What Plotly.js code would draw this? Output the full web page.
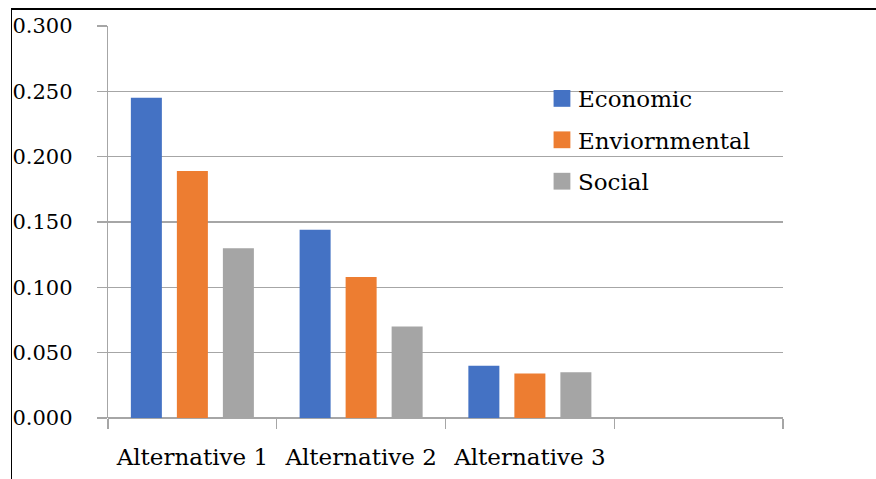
<!DOCTYPE html>
<html>
<head>
<meta charset="utf-8">
<script src="https://cdn.plot.ly/plotly-3.0.1.min.js"></script>
<style>
html,body{margin:0;padding:0;background:#fff;overflow:hidden;}
#frame{position:absolute;left:11px;top:8px;width:880px;height:480px;border-top:2px solid #000;border-left:1.5px solid #000;pointer-events:none;z-index:5;}
#chart{position:absolute;left:0;top:0;width:876px;height:479px;}
</style>
</head>
<body>
<div id="chart"></div>
<div id="frame"></div>
<script>
const categories = ["Alternative 1", "Alternative 2", "Alternative 3", " "];
const economic = [0.245, 0.144, 0.040, null];
const environmental = [0.189, 0.108, 0.034, null];
const social = [0.130, 0.070, 0.035, null];
const seriesNames = ["Economic", "Enviornmental", "Social"];
const colors = ["#4472C4", "#ED7D31", "#A5A5A5"];
const yTicks = [0, 0.05, 0.1, 0.15, 0.2, 0.25, 0.3];

const FONT = "DejaVu Serif, serif";
const series = [economic, environmental, social];
const traces = series.map((v, i) => ({
  type: "bar",
  x: categories,
  y: v,
  name: seriesNames[i],
  legendgroup: "g" + i,
  marker: {color: colors[i]},
  hoverinfo: "none"
}));

const layout = {
  width: 876, height: 479,
  margin: {l: 108, r: 93, t: 26, b: 61, pad: 0},
  paper_bgcolor: "#fff", plot_bgcolor: "#fff",
  barmode: "group",
  bargap: 0.182,
  bargroupgap: 0.326,
  showlegend: true,
  legend: {
    x: 0.637, y: 0.87, xanchor: "left", yanchor: "top",
    font: {family: FONT, size: 23, color: "#000"},
    bgcolor: "rgba(0,0,0,0)",
    tracegroupgap: 8.5,
    itemclick: false
  },
  xaxis: {
    type: "category",
    categoryarray: categories,
    categoryorder: "array",
    range: [-0.5, 3.5],
    tickson: "boundaries",
    ticks: "outside", ticklen: 10, tickwidth: 1.3, tickcolor: "#a6a6a6",
    showgrid: false, showline: false, zeroline: false,
    tickfont: {family: FONT, size: 23, color: "#000"},
    ticklabelstandoff: 23,
    fixedrange: true
  },
  yaxis: {
    range: [0, 0.3],
    tickvals: yTicks,
    tickformat: ".3f",
    ticks: "outside", ticklen: 10, tickwidth: 1.3, tickcolor: "#a6a6a6",
    showgrid: true, gridcolor: "#a6a6a6", gridwidth: 1.3,
    zeroline: true, zerolinecolor: "#a6a6a6", zerolinewidth: 1.3,
    showline: true, linecolor: "#a6a6a6", linewidth: 1.3,
    tickfont: {family: FONT, size: 21, color: "#000"},
    ticklabelstandoff: 20,
    fixedrange: true
  }
};

Plotly.newPlot("chart", traces, layout, {staticPlot: true, displayModeBar: false}).then(() => {
  document.querySelectorAll("#chart .legendpoints path").forEach(p => {
    p.setAttribute("transform", "translate(24,0) scale(1.4)");
  });
});
</script>
</body>
</html>
